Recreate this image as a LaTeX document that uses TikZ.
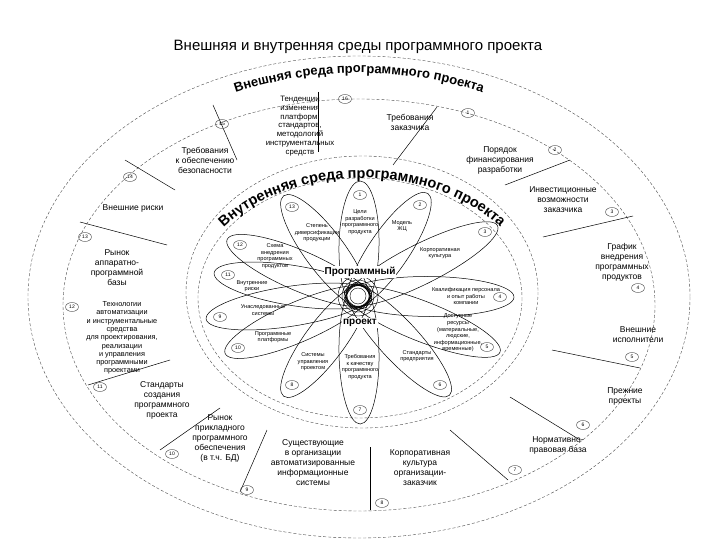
\documentclass[tikz,border=0pt]{standalone}
\usepackage{fontspec}
\setmainfont{Liberation Sans}
\usetikzlibrary{shapes.geometric,calc,decorations.text}
\begin{document}
\begin{tikzpicture}[x=1pt,y=-1pt,
  ring/.style={draw=black!70,dashed,dash pattern=on 3pt off 2pt,line width=0.4pt},
  divider/.style={draw=black,line width=0.5pt},
  sect/.style={align=center,font=\fontsize{8.5}{10}\selectfont,inner sep=0pt},
  intxt/.style={align=center,font=\fontsize{5.6}{6.6}\selectfont,inner sep=0pt},
  num/.style={draw=black!70,ellipse,minimum width=13pt,minimum height=9pt,inner sep=0pt,font=\fontsize{5}{5}\selectfont},
  petal/.style={draw=black,ellipse,line width=0.5pt,inner sep=0pt,minimum height=40pt}]
\useasboundingbox (0,0) rectangle (720,540);
\fill[white] (0,0) rectangle (720,540);
\node[font=\fontsize{15}{15}\selectfont] (title) at (358,47) {Внешняя и внутренняя среды программного проекта};
\coordinate (C) at (359,297);
% rings
\draw[ring] (C) ellipse [x radius=331,y radius=241];
\draw[ring] (359,305) ellipse [x radius=296,y radius=206];
\draw[ring] (362,292) ellipse [x radius=176,y radius=136];
\draw[ring] (360,298) ellipse [x radius=162,y radius=120];
% titles
\path[decorate,decoration={text along path,text align=center,text={|\fontsize{13}{13}\selectfont\bfseries|Внешняя среда программного проекта}}]
  ($(359,305)+(-150:305 and 232)$) arc[start angle=-150,end angle=-30,x radius=305,y radius=232];
\path[decorate,decoration={text along path,text align=center,text={|\fontsize{14.5}{14.5}\selectfont\bfseries|Внутренняя среда программного проекта}}]
  ($(362,300)+(-175:172 and 122)$) arc[start angle=-175,end angle=-5,x radius=172,y radius=122];
% dividers
\coordinate (d1a) at (318,92);  \coordinate (d1b) at (318,152);
\coordinate (d2a) at (437,107); \coordinate (d2b) at (393,165);
\coordinate (d3a) at (213,105); \coordinate (d3b) at (237,160);
\coordinate (d4a) at (125,160); \coordinate (d4b) at (175,190);
\coordinate (d5a) at (543,237); \coordinate (d5b) at (633,216);
\coordinate (d6a) at (552,350); \coordinate (d6b) at (640,368);
\coordinate (d7a) at (510,397); \coordinate (d7b) at (580,440);
\coordinate (d8a) at (450,430); \coordinate (d8b) at (508,480);
\coordinate (d9a) at (370,447); \coordinate (d9b) at (370,510);
\coordinate (d10a) at (267,430); \coordinate (d10b) at (240,492);
\coordinate (d11a) at (220,408); \coordinate (d11b) at (160,450);
\coordinate (d12a) at (88,385); \coordinate (d12b) at (170,360);
\coordinate (d13a) at (80,222); \coordinate (d13b) at (167,245);
\coordinate (d14a) at (505,185); \coordinate (d14b) at (570,160);
\foreach \i in {1,...,14} \draw[divider] (d\i a) -- (d\i b);
% sector labels
\node[sect] (s1) at (410,122) {Требования\\заказчика};
\node[sect] (s2) at (500,160) {Порядок\\финансирования\\разработки};
\node[sect] (s3) at (563,200) {Инвестиционные\\возможности\\заказчика};
\node[sect] (s4) at (622,262) {График\\внедрения\\программных\\продуктов};
\node[sect] (s5) at (638,335) {Внешние\\исполнители};
\node[sect] (s6) at (625,396) {Прежние\\проекты};
\node[sect] (s7) at (558,445) {Нормативно-\\правовая база};
\node[sect] (s8) at (420,468) {Корпоративная\\культура\\организации-\\заказчик};
\node[sect] (s9) at (313,463) {Существующие\\в организации\\автоматизированные\\информационные\\системы};
\node[sect] (s10) at (220,438) {Рынок\\прикладного\\программного\\обеспечения\\(в т.ч. БД)};
\node[sect] (s11) at (162,400) {Стандарты\\создания\\программного\\проекта};
\node[sect,font=\fontsize{7.3}{8.3}\selectfont] (s12) at (122,338) {Технологии\\автоматизации\\и инструментальные\\средства\\для проектирования,\\реализации\\и управления\\программными\\проектами};
\node[sect] (s13) at (117,268) {Рынок\\аппаратно-\\программной\\базы};
\node[sect] (s14) at (133,208) {Внешние риски};
\node[sect] (s15) at (205,160) {Требования\\к обеспечению\\безопасности};
\node[sect,font=\fontsize{7.8}{8.8}\selectfont] (s16) at (300,126) {Тенденции\\изменения\\платформ,\\стандартов,\\методологий\\инструментальных\\средств};
% sector numbers
\node[num] (n1) at (468,113) {1};
\node[num] (n2) at (555,150) {2};
\node[num] (n3) at (612,212) {3};
\node[num] (n4) at (638,288) {4};
\node[num] (n5) at (632,357) {5};
\node[num] (n6) at (583,425) {6};
\node[num] (n7) at (515,470) {7};
\node[num] (n8) at (382,503) {8};
\node[num] (n9) at (247,490) {9};
\node[num] (n10) at (172,454) {10};
\node[num] (n11) at (100,387) {11};
\node[num] (n12) at (72,307) {12};
\node[num] (n13) at (85,237) {13};
\node[num] (n14) at (130,177) {14};
\node[num] (n15) at (222,124) {15};
\node[num] (n16) at (345,99) {16};
% petals
\coordinate (P) at (358,296);
\foreach \k/\px/\py in {1/360/195,2/420/205,3/485/232,4/500/297,5/487/347,6/440/385,7/360/410,8/292/385,10/238/348,9/220/317,11/228/275,12/240/245,13/292/207}{
  \coordinate (e\k) at (\px,\py);
  \path let \p1=($(e\k)-(P)$), \n1={atan2(\y1,\x1)}, \n2={veclen(\x1,\y1)} in
    node[petal,minimum width=\n2+28pt,rotate=\n1] (p\k) at ($(P)!0.5!(e\k)$) {};
}
\foreach \k in {1,...,13} \node[num,fill=white,draw=black!70] (q\k) at (e\k) {\k};
\foreach \r in {8,12,16,20} \draw[line width=0.4pt] (P) circle[radius=\r];
% inner labels
\node[intxt] (i1) at (360,222) {Цели\\разработки\\программного\\продукта};
\node[intxt] (i2) at (402,226) {Модель\\ЖЦ};
\node[intxt] (i3) at (440,253) {Корпоративная\\культура};
\node[intxt] (i4) at (466,296) {Квалификация персонала\\и опыт работы\\компании};
\node[intxt] (i5) at (458,333) {Доступные\\ресурсы\\(материальные,\\людские,\\информационные,\\временные)};
\node[intxt] (i6) at (417,356) {Стандарты\\предприятия};
\node[intxt] (i7) at (360,367) {Требования\\к качеству\\программного\\продукта};
\node[intxt] (i8) at (313,362) {Системы\\управления\\проектом};
\node[intxt] (i9) at (273,337) {Программные\\платформы};
\node[intxt] (i10) at (263,310) {Унаследованные\\системы};
\node[intxt] (i11) at (252,286) {Внутренние\\риски};
\node[intxt] (i12) at (275,256) {Схема\\внедрения\\программных\\продуктов};
\node[intxt] (i13) at (317,233) {Степень\\диверсификации\\продукции};
\node[font=\fontsize{10}{10}\selectfont\bfseries,fill=white,inner sep=1pt] (pp1) at (360,272) {Программный};
\node[font=\fontsize{10}{10}\selectfont\bfseries,fill=white,inner sep=1pt] (pp2) at (360,323) {проект};
\end{tikzpicture}
\end{document}
